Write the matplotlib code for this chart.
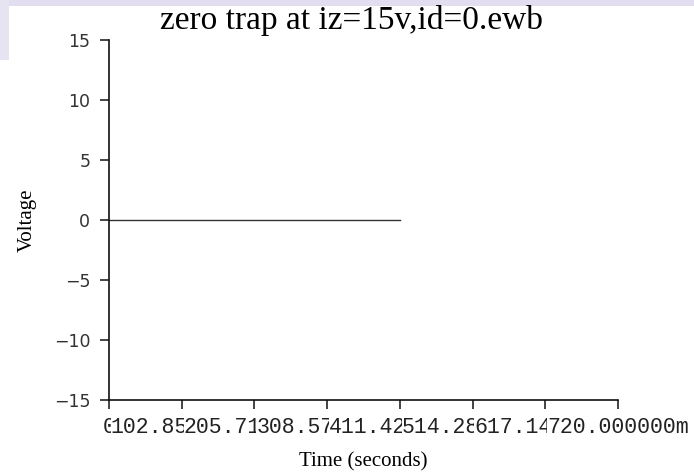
# -*- coding: utf-8 -*-
"""
Courbe de tension (simulation EWB) : zero trap at iz=15v,id=0.
"""

import matplotlib
matplotlib.use("Agg")
import matplotlib.pyplot as plt
from matplotlib.patches import Rectangle
import numpy as np

#----------------------------------------------------------------#

# données
temps = [0.0, 0.411429]          # secondes
tension = [0.0, 0.0]             # volts
x_ticks = np.linspace(0.0, 0.72, 8)
y_ticks = [-15, -10, -5, 0, 5, 10, 15]

titre = "zero trap at iz=15v,id=0.ewb"

#----------------------------------------------------------------#

def etiquette_temps(v):
    if v == 0:
        return "0"
    return "%.6fm" % (v * 1000)


fig = plt.figure(figsize=(6.94, 4.76), dpi=100)

# bandes mauves du fond de diapositive
fig.patches.append(Rectangle((0, 1 - 6 / 476), 1, 6 / 476, transform=fig.transFigure,
                             facecolor="#e2def0", edgecolor="none", zorder=0))
fig.patches.append(Rectangle((0, 1 - 60 / 476), 9 / 694, 60 / 476, transform=fig.transFigure,
                             facecolor="#e6e3f2", edgecolor="none", zorder=0))

ax = fig.add_axes([109 / 694, 1 - 400 / 476, 509 / 694, 360 / 476])
ax.plot(temps, tension, color="#333333", lw=1.0)

ax.set_xlim(0, 0.72)
ax.set_ylim(-15, 15)
ax.set_xticks(x_ticks)
ax.set_xticklabels([etiquette_temps(v) for v in x_ticks],
                   family="Liberation Mono", fontsize=15.5, color="#222222")
ax.set_yticks(y_ticks)
ax.set_yticklabels(["\u2212%d" % -v if v < 0 else "%d" % v for v in y_ticks],
                   family="DejaVu Sans", fontsize=12.5, color="#333333")

# chaque étiquette recouvre la précédente (fond blanc)
for lab in ax.get_xticklabels():
    lab.set_bbox(dict(facecolor="white", edgecolor="none", pad=0))

for s in ["top", "right"]:
    ax.spines[s].set_visible(False)
for s in ["left", "bottom"]:
    ax.spines[s].set_linewidth(1.2)
    ax.spines[s].set_color("#111111")

ax.tick_params(direction="out", length=6.5, width=1.1, color="#111111")
ax.tick_params(axis="y", pad=7)
ax.tick_params(axis="x", pad=6)

ax.set_xlabel("Time (seconds)", family="Liberation Serif", fontsize=15)
ax.xaxis.set_label_coords(0.5, -0.145)
ax.set_ylabel("Voltage", family="Liberation Serif", fontsize=15)
ax.yaxis.set_label_coords(-0.141, 0.5)

fig.text(352 / 694, 1 - 29 / 476, titre, family="Liberation Serif",
         fontsize=24, ha="center", va="baseline")

fig.savefig("out.png", dpi=100)
